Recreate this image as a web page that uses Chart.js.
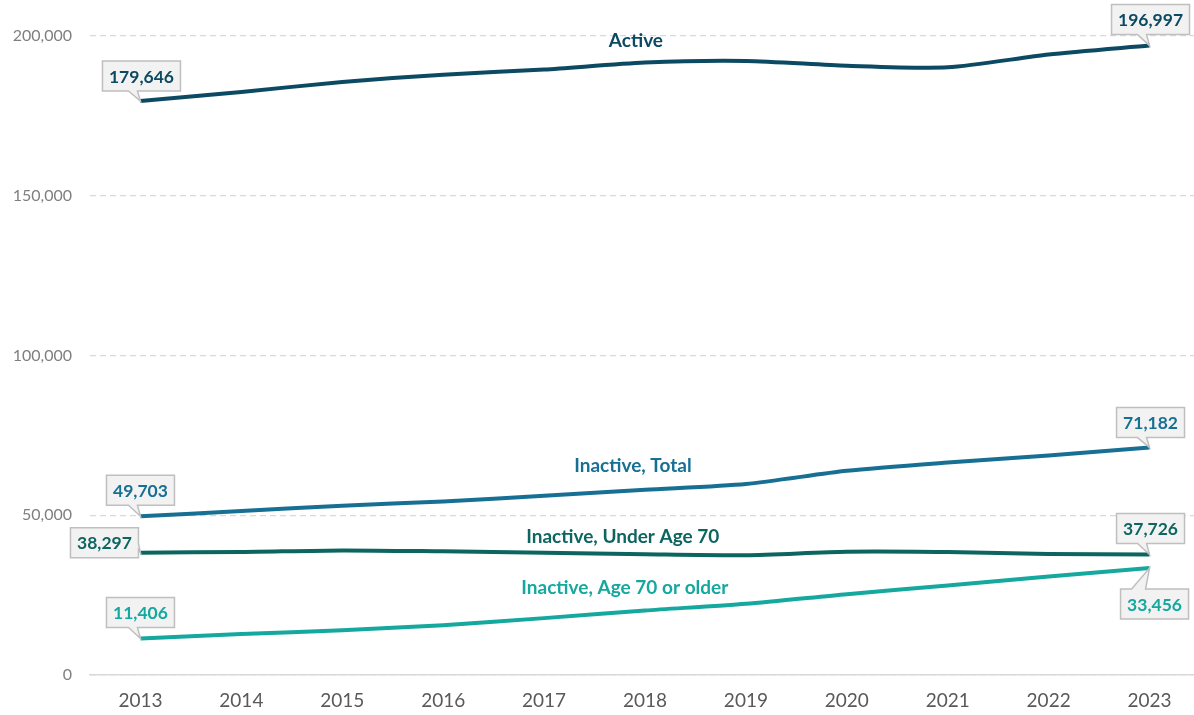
<!DOCTYPE html>
<html>
<head>
<meta charset="utf-8">
<script src="https://cdn.jsdelivr.net/npm/chart.js@4/dist/chart.umd.min.js"></script>
<style>
html,body{margin:0;padding:0;background:#fff;overflow:hidden;width:1194px;height:715px;}
#wrap{width:1194px;height:715px;overflow:hidden;}
</style>
</head>
<body>
<div id="wrap"><canvas id="c" width="1200" height="715"></canvas></div>
<script>
const years = ['2013','2014','2015','2016','2017','2018','2019','2020','2021','2022','2023'];
const active = [179646,182500,185600,187900,189500,191700,192200,190700,190200,194200,196997];
const inactiveTotal = [49703,51300,53000,54300,56100,58000,59800,63900,66500,68700,71182];
const inactiveUnder70 = [38297,38500,39000,38700,38300,37800,37500,38600,38500,37900,37726];
const inactive70Plus = [11406,12800,14000,15600,17800,20200,22300,25300,28000,30800,33456];
const seriesNames = ['Active','Inactive, Total','Inactive, Under Age 70','Inactive, Age 70 or older'];
const seriesColors = ['#0b4a62','#176f94','#0d6560','#14a89e'];
const yTicks = [0,50000,100000,150000,200000];

const FONT = 'Lato, "Open Sans", sans-serif';
const fmt = v => v.toLocaleString('en-US');

// label anchor: [x index (fractional), y value]
const labelAnchors = [[4.91,198400],[4.88,65600],[4.78,43100],[4.80,27200]];
// callouts: [dataset, index, box center dx, dy, tail side]
const callouts = [
  [0,0,1,-25,'bottom'],[0,10,1,-26,'bottom'],
  [1,0,0,-26,'bottom'],[1,10,1,-25,'bottom'],
  [2,0,-36,-10,'right'],[2,10,1,-26,'bottom'],
  [3,0,0,-26,'bottom'],[3,10,5,36,'top']
];

const overlay = {
  id:'overlay',
  afterDatasetsDraw(chart){
    const ctx = chart.ctx, xs = chart.scales.x, ys = chart.scales.y;
    ctx.save();
    // series labels
    ctx.font = 'bold 19px ' + FONT;
    ctx.textAlign = 'center'; ctx.textBaseline = 'middle';
    labelAnchors.forEach((a,i)=>{
      const x = xs.getPixelForDecimal((a[0]+0.5)/years.length);
      const y = ys.getPixelForValue(a[1]);
      ctx.fillStyle = seriesColors[i];
      ctx.fillText(seriesNames[i], x, y);
    });
    // callouts
    ctx.font = 'bold 17.5px ' + FONT;
    callouts.forEach(c=>{
      const [di, idx, dx, dy, side] = c;
      const meta = chart.getDatasetMeta(di);
      const pt = meta.data[idx];
      const px = pt.x, py = pt.y;
      const val = chart.data.datasets[di].data[idx];
      const txt = fmt(val);
      const w = Math.round(ctx.measureText(txt).width + 13), h = 30;
      const cx = px + dx, cy = py + dy;
      const l = cx - w/2, r = cx + w/2, t = cy - h/2, b = cy + h/2;
      ctx.beginPath();
      ctx.moveTo(l,t);
      if (side==='top'){
        ctx.lineTo(px-18,t); ctx.lineTo(px,py); ctx.lineTo(px-4,t);
      }
      ctx.lineTo(r,t);
      if (side==='right'){
        ctx.lineTo(r,b-14); ctx.lineTo(px,py); ctx.lineTo(r,b-8);
      }
      ctx.lineTo(r,b);
      if (side==='bottom'){
        ctx.lineTo(px-3,b); ctx.lineTo(px,py); ctx.lineTo(px-12,b);
      }
      ctx.lineTo(l,b);
      ctx.closePath();
      ctx.fillStyle = '#f2f2f2';
      ctx.fill();
      ctx.lineWidth = 1.5;
      ctx.strokeStyle = '#bfbfbf';
      ctx.stroke();
      ctx.fillStyle = seriesColors[di];
      ctx.textAlign = 'center'; ctx.textBaseline = 'middle';
      ctx.fillText(txt, cx, cy+1);
    });
    ctx.restore();
  }
};

const dataSets = [active, inactiveTotal, inactiveUnder70, inactive70Plus].map((d,i)=>({
  label: seriesNames[i],
  data: d,
  borderColor: seriesColors[i],
  backgroundColor: seriesColors[i],
  borderWidth: 4,
  pointRadius: 0,
  tension: 0.25,
  fill: false
}));

new Chart(document.getElementById('c'), {
  type:'line',
  data:{labels: years, datasets: dataSets},
  options:{
    responsive:false,
    animation:false,
    layout:{padding:{top:36,right:0,left:0,bottom:0}},
    plugins:{legend:{display:false},tooltip:{enabled:false}},
    scales:{
      x:{
        offset:true,
        grid:{display:false, drawTicks:false},
        border:{display:true,color:'#d9d9d9',width:1.5},
        ticks:{color:'#595959',font:{family:FONT,size:19},padding:14,maxRotation:0},
        afterFit(s){ s.height = 40; }
      },
      y:{
        min:0,max:200000,
        afterBuildTicks(s){ s.ticks = yTicks.map(v=>({value:v})); },
        grid:{color:'#d9d9d9',lineWidth:1.3,drawTicks:false},
        border:{display:false,dash:[6,4]},
        ticks:{color:'#7f7f7f',font:{family:FONT,size:16},padding:18,callback:v=>fmt(v)},
        afterFit(s){ s.width = 90; }
      }
    }
  },
  plugins:[overlay]
});
</script>
</body>
</html>
